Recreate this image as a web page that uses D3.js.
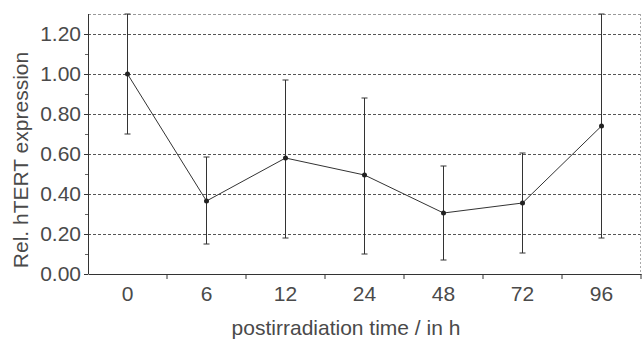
<!DOCTYPE html>
<html>
<head>
<meta charset="utf-8">
<script src="https://cdn.jsdelivr.net/npm/d3@7"></script>
<style>
  body { margin: 0; background: #fff; }
  text { font-family: "Liberation Sans", Arial, sans-serif; fill: #4a4a4a; }
</style>
</head>
<body>
<svg id="chart" width="642" height="340"></svg>
<script>
// Data
const categories = ['0', '6', '12', '24', '48', '72', '96'];
const means = [1.00, 0.365, 0.58, 0.495, 0.305, 0.355, 0.74];
const errLow = [0.70, 0.15, 0.18, 0.10, 0.07, 0.105, 0.18];
const errHigh = [1.30, 0.585, 0.97, 0.88, 0.54, 0.605, 1.30];
const yTicks = [0, 0.2, 0.4, 0.6, 0.8, 1.0, 1.2];
const yMinor = [0.1, 0.3, 0.5, 0.7, 0.9, 1.1];

const svg = d3.select("#chart"),
    margin = {top: 14, right: 1, bottom: 66, left: 88},
    width = +svg.attr("width") - margin.left - margin.right,
    height = +svg.attr("height") - margin.top - margin.bottom;

const x = d3.scaleBand().domain(categories).range([0, width]),
    y = d3.scaleLinear().domain([0, 1.3]).range([height, 0]);

const g = svg.append("g")
    .attr("transform", "translate(" + margin.left + "," + margin.top + ")");

// grid lines
g.selectAll(".grid")
  .data(yTicks.slice(1).concat([1.3]))
  .enter().append("line")
    .attr("x1", 0).attr("x2", width)
    .attr("y1", d => Math.round(y(d)) + 0.5).attr("y2", d => Math.round(y(d)) + 0.5)
    .attr("stroke", d => d === 1.3 ? "#999" : "#555")
    .attr("stroke-width", 1)
    .attr("stroke-dasharray", "3,2");

// right border (dotted)
g.append("line")
    .attr("x1", width - 0.5).attr("x2", width - 0.5)
    .attr("y1", 0).attr("y2", height)
    .attr("stroke", "#aaa")
    .attr("stroke-dasharray", "2,2");

// y axis
const yAxis = g.append("g")
    .call(d3.axisLeft(y).tickValues(yTicks).tickFormat(d3.format(".2f")).tickSize(4).tickPadding(3));
yAxis.select(".domain").attr("stroke", "#333").attr("d", "M0.5," + height + "V0");
yAxis.selectAll("line").attr("stroke", "#333");
yAxis.selectAll("text").attr("font-size", 21).attr("fill", "#4a4a4a");

g.append("g")
    .call(d3.axisLeft(y).tickValues(yMinor).tickFormat("").tickSize(3))
    .call(a => a.select(".domain").remove())
    .selectAll("line").attr("stroke", "#666");

// x axis
const xAxis = g.append("g")
    .attr("transform", "translate(0," + height + ")")
    .call(d3.axisBottom(x).tickSize(0).tickPadding(12));
xAxis.select(".domain").attr("stroke", "#333").attr("stroke-width", 1.2);
xAxis.selectAll("text").attr("font-size", 21).attr("fill", "#4a4a4a");

g.append("g")
    .attr("transform", "translate(0," + height + ")")
    .selectAll("line")
    .data(categories)
    .enter().append("line")
      .attr("x1", d => x(d) + x.bandwidth()).attr("x2", d => x(d) + x.bandwidth())
      .attr("y1", 0).attr("y2", 5)
      .attr("stroke", "#333");

const cx = d => x(d) + x.bandwidth() / 2;
const pts = categories.map((c, i) => ({c: c, m: means[i], lo: errLow[i], hi: errHigh[i]}));

// error bars
const eb = g.selectAll(".eb").data(pts).enter().append("g");
eb.append("line")
    .attr("x1", d => cx(d.c)).attr("x2", d => cx(d.c))
    .attr("y1", d => y(d.lo)).attr("y2", d => y(d.hi))
    .attr("stroke", "#333");
eb.append("line")
    .attr("x1", d => cx(d.c) - 3).attr("x2", d => cx(d.c) + 3)
    .attr("y1", d => y(d.lo)).attr("y2", d => y(d.lo))
    .attr("stroke", "#333");
eb.append("line")
    .attr("x1", d => cx(d.c) - 3).attr("x2", d => cx(d.c) + 3)
    .attr("y1", d => y(d.hi)).attr("y2", d => y(d.hi))
    .attr("stroke", "#333");

// mean line
g.append("path")
    .datum(pts)
    .attr("fill", "none")
    .attr("stroke", "#333")
    .attr("stroke-width", 1)
    .attr("d", d3.line().x(d => cx(d.c)).y(d => y(d.m)));

g.selectAll(".pt").data(pts).enter().append("circle")
    .attr("cx", d => cx(d.c)).attr("cy", d => y(d.m))
    .attr("r", 2.5).attr("fill", "#222");

// axis titles
svg.append("text")
    .attr("x", 346)
    .attr("y", 335)
    .attr("text-anchor", "middle")
    .attr("font-size", 21)
    .text("postirradiation time / in h");

svg.append("text")
    .attr("transform", "translate(28,160) rotate(-90)")
    .attr("text-anchor", "middle")
    .attr("font-size", 21)
    .text("Rel. hTERT expression");
</script>
</body>
</html>
